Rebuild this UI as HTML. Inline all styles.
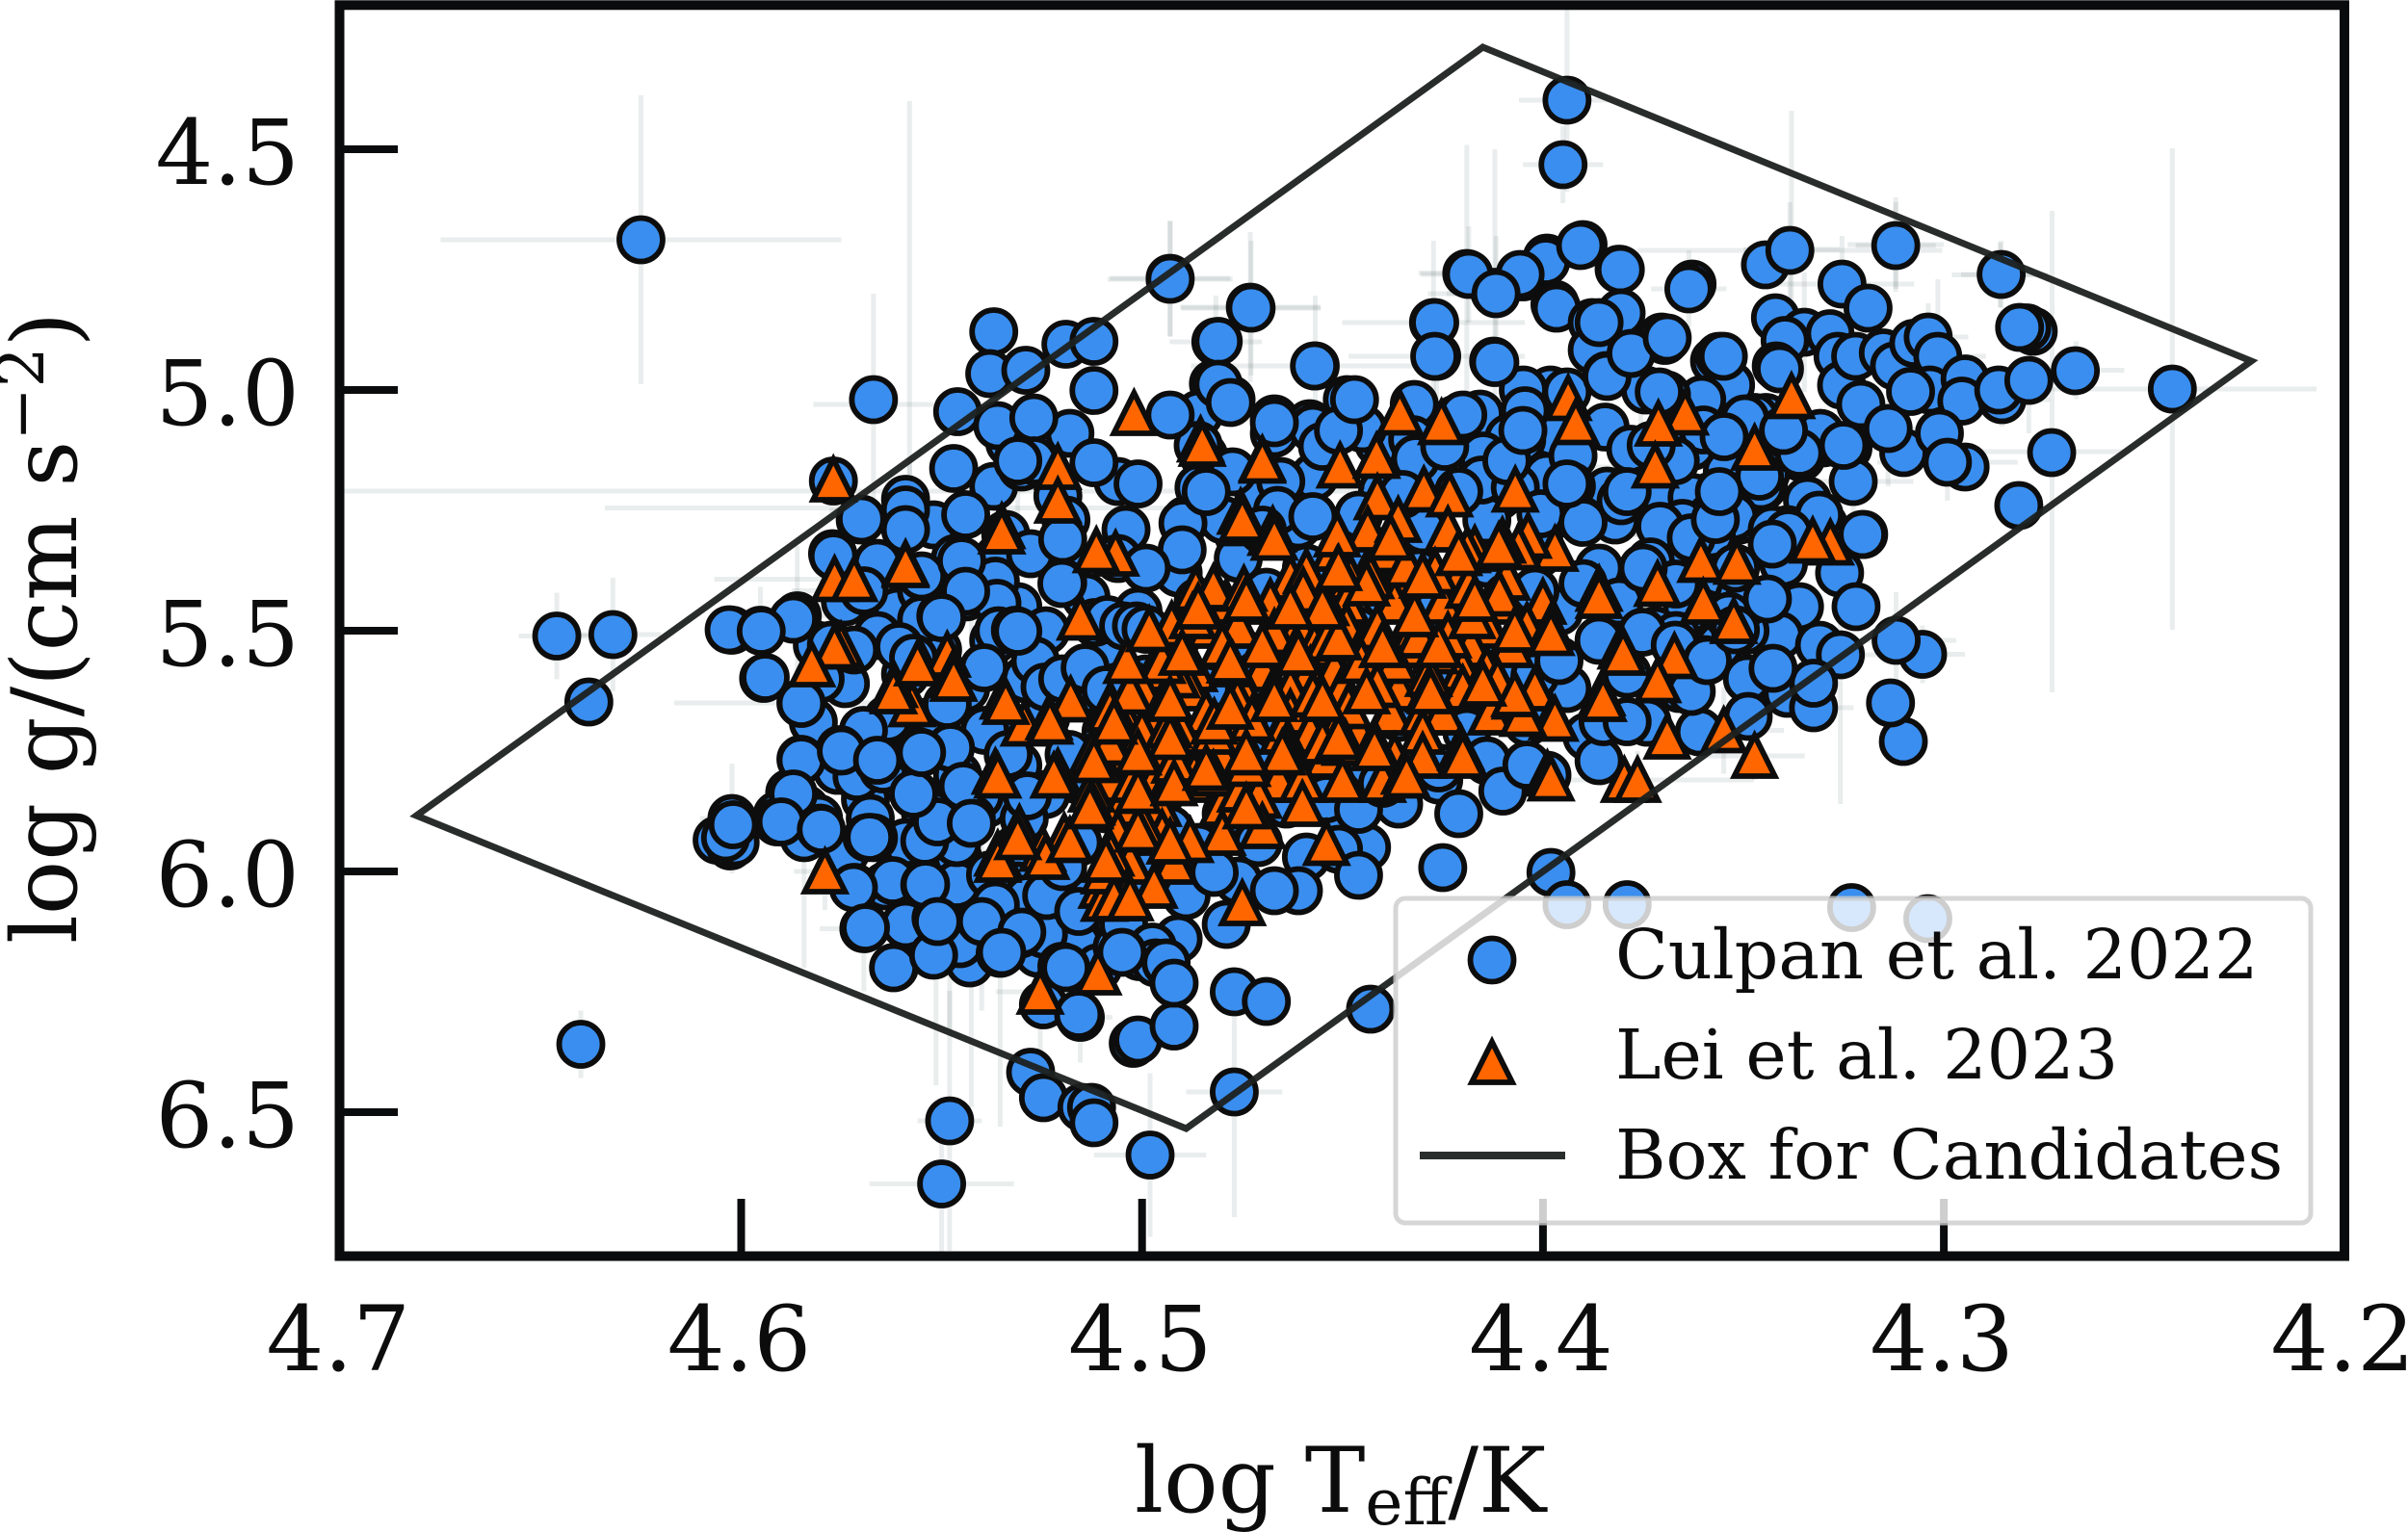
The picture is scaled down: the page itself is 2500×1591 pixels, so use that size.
<!DOCTYPE html>
<html lang="en">
<head>
<meta charset="utf-8">
<title>log g versus log Teff</title>
<style>
html,body{margin:0;padding:0;background:#fff}
svg{display:block}
text{font-family:"DejaVu Serif","Liberation Serif",serif;fill:#0c0c0c}
</style>
</head>
<body>
<svg id="chart" xmlns="http://www.w3.org/2000/svg" width="2500" height="1591" viewBox="0 0 2500 1591">
<defs><clipPath id="axes-clip"><rect x="352" y="5" width="2082" height="1300"/></clipPath></defs>
<rect x="0" y="0" width="2500" height="1591" fill="#fff"/>
<g id="ticks"></g>
<g id="errors" clip-path="url(#axes-clip)"></g>
<g id="blue"></g>
<g id="orange"></g>
<polygon id="box" fill="none" stroke="#1c211f" stroke-opacity="0.95" stroke-width="7" stroke-linejoin="miter"/>
<g>
<rect x="1449" y="933" width="950" height="337" rx="10" fill="#fff" fill-opacity="0.8" stroke="#ccc" stroke-opacity="0.8" stroke-width="5"/>
<circle cx="1549" cy="997" r="22.5" fill="#3a8eef" stroke="#0d0d0d" stroke-width="5.8"/>
<polygon points="1549,1082 1570,1124 1528,1124" fill="#ff6600" stroke="#0d0d0d" stroke-width="5.8"/>
<line x1="1474" y1="1200" x2="1625" y2="1200" stroke="#2a2f2d" stroke-width="8"/>
<text x="1677" y="1016" font-size="71.5">Culpan et al. 2022</text>
<text x="1677" y="1120" font-size="71.5">Lei et al. 2023</text>
<text x="1677" y="1224" font-size="71.5">Box for Candidates</text>
</g>
<rect x="352.5" y="5.3" width="2081.5" height="1299.2" fill="none" stroke="#0a0b0c" stroke-width="10"/>
<text x="1178" y="1570" font-size="94">log T<tspan font-size="66" dy="13">eff</tspan><tspan dy="-13">/K</tspan></text>
<text transform="translate(79,980) rotate(-90)" font-size="93.5">log g/(cm s<tspan font-size="66" dy="-34">−2</tspan><tspan dy="34">)</tspan></text>
<g id="ticklabels"></g>
</svg>
<script>
const xTicks = [4.7, 4.6, 4.5, 4.4, 4.3, 4.2];
const xTickLabels = ["4.7", "4.6", "4.5", "4.4", "4.3", "4.2"];
const yTicks = [4.5, 5.0, 5.5, 6.0, 6.5];
const yTickLabels = ["4.5", "5.0", "5.5", "6.0", "6.5"];
const boxTeff = [4.681, 4.415, 4.2233, 4.489];
const boxLogg = [5.884, 4.288, 4.94, 6.534];
const errorBars = [
[4.625,4.688,.050,.30],[4.558,5.25,.02,.85],[4.567,5.03,.015,.23],[4.493,4.768,.015,.12],[4.473,4.828,.0175,.156],
[4.531,5.21,.168,.1],[4.558,5.245,.076,.1],[4.394,4.398,.012,.19],[4.395,4.532,.01,.08],[4.419,4.757,.012,.266],
[4.412,4.80,.012,.3],[4.338,4.708,.012,.288],[4.312,4.698,.012,.098],[4.243,4.998,.036,.5],[4.273,5.128,.0194,.5],
[4.286,4.761,.012,.067],[4.267,4.959,.012,.06],[4.3258,5.55,.015,.31],[4.3119,5.52,.015,.1],[4.3053,5.549,.0106,.06],
[4.3472,5.76,.0125,.05],[4.3325,5.66,.01,.05],[4.3549,5.707,.015,.09],[4.3764,5.81,.029,.06],[4.3496,5.50,.021,.07],
[4.55,6.649,.018,.14],[4.498,6.589,.014,.17],[4.477,6.458,.012,.26],[4.64,6.359,.006,.07],[4.548,6.518,.008,.27],
[4.646,5.511,.0095,.09],[4.632,5.508,.012,.118],[4.5514,6.169,.008,.275],[4.548,6.1,.008,.23],[4.5426,5.90,.01,.59],
[4.54,6.099,.008,.19],[4.5354,6.17,.01,.36],[4.5843,5.93,.01,.27],[4.5694,6.119,.011,.13],[4.5254,6.25,.011,.126],
[4.5154,6.303,.008,.094],[4.5791,6.0,.0077,.08],[4.5851,5.65,.0316,.06],[4.5767,5.393,.03,.07],[4.5952,5.499,.01,.09],
[4.5851,5.65,.006,.07],[4.6023,5.89,.008,.114],[4.586,5.469,.012,.145],[4.4728,4.83,.0174,.14],[4.4816,4.90,.0115,.096],
[4.493,4.77,.0156,.12],[4.4568,4.95,.031,.146],[4.4273,4.86,.0228,.17],[4.4265,4.93,.022,.12],[4.4185,4.76,.012,.1],
[4.4117,4.80,.017,.12],[4.3636,4.79,.0094,.08],[4.3384,4.71,.038,.1],[4.312,4.70,.01,.09],[4.3254,4.78,.018,.1],
[4.3348,4.88,.012,.124],[4.3015,4.93,.012,.16],[4.3039,4.89,.01,.07],[4.2857,4.76,.01,.07],[4.2788,4.98,.012,.11],
[4.2855,5.02,.012,.056],[4.2991,5.15,.0175,.08],[4.3226,5.19,.015,.1],[4.3139,5.08,.012,.12],[4.3612,5.30,.02,.1],
[4.3844,5.3,.024,.1],[4.3756,5.16,.026,.14],[4.4085,5.10,.018,.2],[4.5486,5.653,.012,.12],[4.5694,5.417,.018,.1]
];
const culpanPoints = [
[4.533,5.11],[4.518,5.09],[4.441,5.11],[4.427,5.09],[4.414,5.12],[4.398,5.09],[4.36,5.1],[4.347,5.13],[4.33,5.11],[4.31,5.13],
[4.537,5.2],[4.521,5.22],[4.506,5.19],[4.471,5.21],[4.457,5.18],[4.44,5.21],[4.424,5.19],[4.411,5.22],[4.399,5.18],[4.384,5.21],[4.371,5.19],[4.358,5.22],[4.345,5.2],[4.334,5.23],
[4.552,5.28],[4.534,5.3],[4.519,5.27],[4.504,5.29],[4.489,5.27],[4.476,5.3],[4.461,5.28],[4.446,5.26],[4.43,5.29],[4.414,5.27],[4.401,5.3],[4.382,5.27],[4.369,5.3],[4.351,5.27],[4.339,5.29],[4.33,5.28],
[4.566,5.36],[4.549,5.38],[4.536,5.35],[4.519,5.37],[4.506,5.35],[4.491,5.38],[4.476,5.35],[4.459,5.37],[4.446,5.35],[4.431,5.38],[4.414,5.36],[4.401,5.34],[4.386,5.37],[4.369,5.35],[4.356,5.38],[4.34,5.36],[4.326,5.38],
[4.574,5.44],[4.561,5.46],[4.544,5.43],[4.531,5.45],[4.514,5.43],[4.501,5.46],[4.486,5.44],[4.469,5.42],[4.456,5.46],[4.439,5.43],[4.426,5.45],[4.409,5.43],[4.396,5.46],[4.381,5.44],[4.364,5.46],[4.351,5.43],[4.336,5.45],
[4.581,5.53],[4.566,5.51],[4.551,5.54],[4.537,5.52],[4.524,5.5],[4.509,5.53],[4.491,5.51],[4.476,5.54],[4.463,5.52],[4.446,5.5],[4.431,5.53],[4.416,5.51],[4.404,5.54],[4.386,5.52],[4.372,5.5],[4.356,5.53],[4.341,5.51],[4.331,5.53],
[4.574,5.61],[4.559,5.59],[4.544,5.62],[4.529,5.6],[4.516,5.63],[4.499,5.6],[4.484,5.62],[4.471,5.59],[4.454,5.61],[4.441,5.59],[4.424,5.62],[4.411,5.6],[4.394,5.62],[4.379,5.59],[4.366,5.62],[4.349,5.6],[4.339,5.63],
[4.582,5.69],[4.569,5.72],[4.554,5.69],[4.537,5.71],[4.524,5.68],[4.509,5.71],[4.494,5.69],[4.479,5.72],[4.464,5.69],[4.449,5.71],[4.436,5.68],[4.419,5.71],[4.404,5.69],[4.389,5.72],[4.374,5.69],[4.361,5.71],
[4.576,5.79],[4.561,5.77],[4.546,5.8],[4.531,5.78],[4.516,5.81],[4.503,5.78],[4.486,5.8],[4.473,5.77],[4.456,5.8],[4.443,5.78],[4.426,5.81],[4.414,5.77],[4.399,5.8],[4.386,5.77],
[4.584,5.87],[4.569,5.85],[4.554,5.88],[4.539,5.86],[4.524,5.84],[4.509,5.87],[4.496,5.85],[4.479,5.88],[4.464,5.86],[4.449,5.89],[4.436,5.86],[4.421,5.88],
[4.574,5.96],[4.559,5.94],[4.546,5.97],[4.531,5.95],[4.516,5.94],[4.501,5.97],[4.486,5.95],[4.471,5.94],[4.459,5.97],[4.444,5.95],
[4.564,6.03],[4.549,6.05],[4.531,6.03],[4.519,6.06],[4.504,6.03],[4.489,6.05],[4.476,6.02],[4.461,6.04],
[4.559,6.11],[4.546,6.14],[4.531,6.12],[4.516,6.15],[4.506,6.11],[4.491,6.14],[4.479,6.11],
[4.543,6.19],[4.526,6.17],[4.511,6.2],[4.498,6.18],
[4.625,4.688],[4.394,4.398],[4.395,4.532],[4.493,4.768],[4.473,4.828],[4.39,4.698],[4.399,4.726],[4.405,4.765],[4.419,4.758],[4.412,4.797],
[4.397,4.822],[4.381,4.749],[4.3628,4.78],[4.3636,4.79],[4.3445,4.74],[4.3384,4.71],[4.312,4.70],[4.2857,4.76],[4.3254,4.78],[4.3189,4.83],
[4.2777,4.878],[4.2793,4.871],[4.2811,4.87],[4.2672,4.96],[4.243,4.998],[4.2731,5.13],[4.2813,5.24],[4.342,4.85],[4.3348,4.88],[4.3396,4.897],
[4.3284,4.883],[4.3418,4.95],[4.3696,4.897],[4.3704,4.89],[4.3572,4.94],[4.356,4.93],[4.3532,4.99],[4.3604,5.02],[4.3692,5.01],[4.3744,5.0],
[4.3264,4.93],[4.3255,4.99],[4.322,4.93],[4.3151,4.923],[4.3123,4.95],[4.3075,4.903],[4.3039,4.89],[4.3015,4.93],[4.3035,5.0],[4.3083,5.003],
[4.2947,4.977],[4.2955,5.023],[4.2855,5.02],[4.2863,5.0],[4.2788,4.98],[4.3207,5.03],[4.3139,5.08],[4.3011,5.09],[4.2947,5.16],[4.2991,5.15],
[4.3239,5.12],[4.3308,5.09],[4.3356,5.14],[4.3226,5.19],[4.3311,5.26],[4.32,5.30],[4.3412,5.077],[4.3444,5.057],[4.3472,5.057],[4.3496,5.06],
[4.3444,5.173],[4.3456,5.20],[4.3508,5.157],[4.354,5.17],[4.3628,5.117],[4.36,5.083],[4.3548,5.097],[4.3716,5.203],[4.3628,5.223],[4.358,5.263],
[4.3524,5.263],[4.3652,5.277],[4.3708,5.283],[4.3428,5.29],[4.3388,5.297],
[4.493,4.77],[4.4728,4.83],[4.4816,4.90],[4.4778,5.02],[4.4822,4.987],[4.4858,5.05],[4.4568,4.95],[4.4488,5.02],[4.467,5.06],[4.467,5.09],
[4.4582,5.07],[4.4574,5.08],[4.445,5.08],[4.455,5.117],[4.4185,4.76],[4.3993,4.733],[4.4057,4.76],[4.4117,4.80],[4.3906,4.70],[4.3807,4.75],
[4.3966,4.83],[4.3877,4.86],[4.3805,4.84],[4.4265,4.93],[4.4273,4.86],[4.4123,4.94],[4.3877,4.917],[4.3841,4.97],[4.3981,5.0],[4.4049,5.0],
[4.4045,5.043],[4.4321,5.03],[4.4157,5.05],[4.4217,5.06],[4.4053,5.103],[4.4085,5.10],[4.3845,5.077],[4.3925,5.137],[4.3781,5.123],[4.3805,5.23],
[4.3929,5.20],[4.4149,5.137],[4.4153,5.187],[4.4069,5.203],[4.3905,5.27],[4.4325,5.103],[4.4317,5.143],[4.4245,5.117],[4.4846,5.137],[4.4858,5.203],
[4.4774,5.17],[4.4654,5.19],[4.4662,5.25],[4.4574,5.263],[4.4798,5.27],[4.4898,5.277],[4.435,5.217],[4.4005,5.257],
[4.5772,5.34],[4.5703,5.27],[4.6023,5.499],[4.5952,5.499],[4.586,5.469],[4.5851,5.65],[4.5803,5.60],[4.5944,5.599],[4.5775,5.53],[4.5718,5.54],
[4.5694,5.417],[4.5466,5.35],[4.5366,5.397],[4.5362,5.443],[4.5442,5.417],[4.5278,5.34],[4.5198,5.31],[4.5198,5.40],[4.555,5.417],[4.555,5.477],
[4.5502,5.469],[4.5606,5.533],[4.557,5.557],[4.5358,5.50],[4.5316,5.499],[4.5394,5.577],[4.5266,5.563],[4.5242,5.617],[4.5198,5.60],[4.5486,5.653],
[4.5634,5.683],[4.5695,5.707],[4.5392,5.707],[4.5851,5.767],[4.5753,5.747],[4.5711,5.803],[4.5646,5.787],[4.5562,5.75],[4.5478,5.743],[4.5879,5.837],
[4.5566,5.84],[4.5406,5.843],[4.5334,5.757],[4.6023,5.89],[4.591,5.883],[4.5807,5.89],[4.5678,5.89],[4.5518,5.883],[4.5426,5.89],[4.5294,5.89],
[4.5118,5.483],[4.5086,5.477],[4.5046,5.49],[4.5014,5.49],[4.499,5.497],[4.5142,5.577],[4.509,5.623],[4.5182,5.757],[4.5086,5.757],[4.5446,5.823],[4.5286,5.843],
[4.606,5.935],[4.6027,5.947],[4.6015,5.94],[4.6039,5.93],[4.591,5.897],[4.5843,5.93],[4.5803,5.91],[4.567,5.93],[4.5686,5.93],[4.5718,6.033],
[4.5622,6.019],[4.5542,6.028],[4.5694,6.119],[4.5618,6.199],[4.5514,6.169],[4.5454,6.15],[4.5354,6.17],[4.5514,6.097],[4.5405,6.099],[4.5246,6.13],
[4.5304,6.13],[4.5462,6.027],[4.5378,6.007],[4.5286,6.057],[4.5238,6.05],[4.52,6.197],[4.5366,6.07],[4.5006,6.177],[4.5062,6.157],[4.5046,6.11],
[4.5126,6.057],[4.5158,6.083],[4.5198,5.99],[4.5462,5.94],[4.5542,5.937],[4.551,5.897],[4.5426,5.90],[4.5246,6.277],[4.5154,6.303],[4.5158,6.297],
[4.5022,6.357],[4.501,6.35],[4.5278,6.417],[4.5246,6.47],[4.515,6.49],[4.5126,6.49],[4.4974,6.157],[4.4966,6.19],
[4.548,6.518],[4.55,6.649],[4.498,6.589],[4.512,6.522],[4.64,6.359],[4.492,6.321],[4.477,6.25],[4.469,6.27],[4.443,6.286],[4.477,6.458],
[4.494,6.19],[4.492,6.232],[4.519,6.2],[4.505,6.168],[4.425,5.992],[4.398,6.002],[4.394,6.069],[4.379,6.069],[4.323,6.075],[4.304,6.098],
[4.3101,5.73],[4.3133,5.65],[4.3325,5.66],[4.3053,5.549],[4.3119,5.52],[4.3219,5.45],[4.3258,5.55],[4.3325,5.609],[4.3426,5.578],[4.3488,5.678],
[4.3203,5.30],[4.3428,5.32],[4.3596,5.56],[4.3668,5.51],[4.3496,5.50],[4.3488,5.44],[4.3536,5.47],[4.358,5.30],[4.3732,5.357],[4.3668,5.403],[4.3752,5.503],
[4.646,5.511],[4.632,5.508],[4.638,5.648],[4.567,5.02],[4.537,4.879],[4.538,4.966],[4.529,4.959],[4.519,4.905],[4.512,4.899],[4.512,5.001],
[4.546,5.045],[4.536,5.074],[4.527,5.058],[4.53,5.16],[4.512,5.151],[4.501,5.195],[4.527,5.147],[4.547,5.163],[4.531,5.147],[4.577,5.189],
[4.559,5.227],[4.559,5.249],[4.57,5.268],[4.544,5.259],[4.577,5.345],[4.559,5.29],[4.555,5.386],[4.545,5.355],[4.544,5.418],[4.55,5.473],
[4.531,5.501],[4.52,5.402],[4.587,5.476],[4.603,5.498],[4.595,5.501],[4.594,5.597],[4.585,5.651],[4.585,5.769],[4.575,5.75],[4.566,5.769],
[4.587,5.839],[4.59,5.897],[4.602,5.903],[4.58,5.913],[4.568,5.929],[4.557,5.839],[4.555,5.753],[4.572,6.034],[4.569,6.117],[4.562,6.2],
[4.552,6.174],[4.554,6.027],[4.551,6.104],[4.54,6.104],[4.53,6.126],[4.535,6.168],[4.493,5.913],[4.467,6.04],[4.482,6.002],[4.454,5.849],
[4.446,5.871],[4.451,5.954],[4.446,6.008],[4.44,5.817],[4.426,5.785],[4.41,5.833],[4.404,5.779],[4.385,5.689],[4.379,5.689],[4.363,5.626],
[4.402,5.594],[4.396,5.562],[4.417,5.594],[4.367,5.53],[4.359,5.562],[4.352,5.498],[4.344,5.434],[4.352,5.37],[4.363,5.307],[4.375,5.37],
[4.39,5.275],[4.39,5.402],[4.402,5.418],[4.379,5.211],[4.357,5.269],[4.346,5.179],[4.336,5.131],[4.325,5.115],[4.34,5.084],[4.356,5.211],
[4.367,5.147],[4.373,5.115],[4.394,5.195],[4.409,5.147],[4.421,5.211],[4.47,5.291],[4.49,5.332],[4.499,5.37],[4.484,5.211],[4.486,5.115],
[4.493,5.052],[4.481,4.899],[4.481,4.988],[4.478,5.026],[4.457,4.95],[4.467,5.068],[4.451,5.084],[4.427,4.86],[4.427,4.93],[4.412,4.943],
[4.447,5.02],[4.405,5.084],[4.42,5.052],[4.394,5.004],[4.384,4.972],[4.386,4.86],[4.378,4.924],[4.369,4.892],[4.355,4.93],[4.341,4.956],[4.371,5.004]
];
const leiPoints = [
[4.452,5.33],[4.441,5.33],[4.417,5.33],[4.397,5.33],[4.463,5.39],[4.448,5.39],[4.437,5.39],[4.421,5.39],[4.409,5.39],
[4.479,5.44],[4.468,5.44],[4.449,5.44],[4.437,5.44],[4.425,5.44],[4.412,5.44],[4.4,5.44],
[4.483,5.49],[4.476,5.49],[4.461,5.49],[4.449,5.49],[4.432,5.49],[4.414,5.49],[4.404,5.49],
[4.494,5.53],[4.48,5.53],[4.466,5.53],[4.457,5.53],[4.445,5.53],[4.434,5.53],[4.418,5.53],[4.408,5.53],
[4.497,5.58],[4.487,5.58],[4.47,5.58],[4.458,5.58],[4.452,5.58],[4.436,5.58],[4.42,5.58],[4.414,5.58],
[4.5,5.62],[4.488,5.62],[4.475,5.62],[4.463,5.62],[4.45,5.62],[4.436,5.62],[4.42,5.62],[4.402,5.62],
[4.505,5.67],[4.496,5.67],[4.484,5.67],[4.463,5.67],[4.438,5.67],[4.43,5.67],[4.425,5.67],[4.413,5.67],
[4.5,5.71],[4.49,5.71],[4.476,5.71],[4.465,5.71],[4.458,5.71],[4.446,5.71],[4.43,5.71],
[4.506,5.76],[4.497,5.76],[4.48,5.76],[4.462,5.76],[4.454,5.76],[4.437,5.76],[4.43,5.76],
[4.508,5.81],[4.497,5.81],[4.488,5.81],[4.466,5.81],[4.46,5.81],[4.45,5.81],[4.44,5.81],
[4.505,5.86],[4.496,5.86],[4.48,5.86],[4.46,5.86],[4.506,5.92],[4.495,5.92],[4.48,5.92],[4.503,5.98],[4.492,5.98],[4.497,6.03],[4.51,6.03],
[4.338,5.013],[4.3645,5.047],[4.3712,5.07],[4.3472,5.12],[4.372,5.157],[4.4854,5.103],[4.47,5.143],[4.4506,5.157],[4.4415,5.137],[4.4357,5.047],
[4.4253,5.067],[4.3937,5.017],[4.3918,5.067],[4.4069,5.207],[4.4297,5.207],[4.4233,5.217],[4.4413,5.223],[4.475,5.277],[4.4437,5.29],[4.4237,5.29],
[4.4674,5.29],[4.4513,5.30],[4.4037,5.303],
[4.4754,5.253],[4.4678,5.297],[4.4361,5.27],[4.4061,5.327],[4.4101,5.313],[4.4189,5.333],[4.4385,5.333],[4.4341,5.363],[4.4269,5.377],[4.4513,5.373],
[4.459,5.377],[4.443,5.387],[4.4866,5.413],[4.4822,5.41],[4.4746,5.413],[4.4598,5.417],[4.4542,5.443],[4.4185,5.407],[4.4109,5.423],[4.4413,5.493],
[4.4926,5.487],[4.4874,5.47],[4.467,5.503],[4.4538,5.517],[4.431,5.51],[4.4237,5.51],[4.4177,5.47],[4.4618,5.543],[4.4269,5.543],[4.3981,5.493],
[4.386,5.413],[4.3805,5.533],[4.4369,5.563],[4.4453,5.563],[4.4774,5.57],[4.4914,5.593],[4.4413,5.613],[4.4285,5.59],[4.4285,5.623],[4.4574,5.633],
[4.4678,5.633],[4.4762,5.643],[4.4113,5.603],[4.4069,5.637],[4.3977,5.68],[4.3853,5.63],[4.4485,5.657],[4.4517,5.703],[4.4726,5.683],[4.4421,5.73],
[4.4642,5.743],[4.4493,5.733],[4.455,5.73],[4.4205,5.743],[4.4934,5.697],[4.4822,5.71],[4.487,5.797],[4.4822,5.797],[4.4345,5.793],[4.3989,5.797],
[4.3797,5.81],[4.4754,5.83],[4.471,5.843],[4.4918,5.77],[4.4738,5.777],[4.495,5.563],
[4.559,5.36],[4.5767,5.393],[4.5718,5.393],[4.5066,5.34],[4.5114,5.333],[4.535,5.283],[4.5154,5.473],[4.5751,5.53],[4.5767,5.533],[4.5824,5.57],
[4.5554,5.563],[4.5486,5.55],[4.5474,5.593],[4.5574,5.653],[4.5618,5.613],[4.5346,5.637],[4.5178,5.643],[4.5294,5.693],[4.5232,5.68],[4.5079,5.653],
[4.503,5.627],[4.5038,5.563],[4.5366,5.793],[4.521,5.793],[4.5126,5.753],[4.5082,5.733],[4.5022,5.81],[4.5126,5.83],[4.4982,5.497],
[4.5791,6.0],[4.5306,5.91],[4.5194,5.927],[4.536,5.963],[4.5248,5.953],[4.5078,5.963],[4.5094,6.057],[4.5094,6.0],[4.5038,6.043],[4.511,6.21],
[4.5254,6.25],[4.5126,5.857],[4.4998,5.903],
[4.3283,5.317],[4.3327,5.313],[4.3606,5.353],[4.3516,5.357],[4.3714,5.403],[4.36,5.44],[4.3524,5.48],[4.3672,5.553],[4.3714,5.603],[4.369,5.72],
[4.3549,5.707],[4.3472,5.76],[4.3764,5.81],
[4.577,5.186],[4.502,5.048],[4.485,5.112],[4.47,5.147],[4.521,5.16],[4.521,5.23],[4.535,5.294],[4.559,5.364],[4.475,5.268],[4.467,5.307],
[4.386,5.428],[4.38,5.546],[4.397,5.683],[4.398,5.807],[4.385,5.642],[4.454,5.941],[4.475,6.066],[4.536,5.801],[4.536,5.976],[4.524,5.97],
[4.518,5.935],[4.531,5.929],[4.562,5.626],[4.556,5.568],[4.547,5.6],[4.534,5.648],[4.523,5.689],[4.508,5.664],[4.47,5.906],[4.488,5.935],
[4.507,6.056],[4.503,6.056],[4.509,5.976],[4.501,5.913],[4.493,5.938],[4.513,5.865],[4.501,5.833],[4.492,5.817],[4.484,5.785],[4.474,5.865],
[4.465,5.753],[4.451,5.721],[4.434,5.801],[4.42,5.753],[4.442,5.744],[4.493,5.721],[4.482,5.689],[4.474,5.753],[4.501,5.753],[4.512,5.769],
[4.522,5.801],[4.507,5.689],[4.493,5.642],[4.478,5.658],[4.467,5.642],[4.455,5.642],[4.444,5.626],[4.428,5.626],[4.49,5.546],[4.47,5.53],
[4.478,5.562],[4.461,5.546],[4.451,5.514],[4.44,5.53],[4.426,5.53],[4.417,5.434],[4.432,5.466],[4.444,5.402],[4.455,5.45],[4.463,5.45],
[4.486,5.45],[4.474,5.434],[4.451,5.37],[4.438,5.307],[4.43,5.386],[4.421,5.339],[4.411,5.323],[4.407,5.498],[4.398,5.505],[4.405,5.673],
[4.407,5.632],[4.415,5.61],[4.42,5.76]
];

const SVGNS = "http://www.w3.org/2000/svg";
function xScale(t) { return 353.3 + (4.7 - t) * 4162; }
function yScale(g) { return 155 + (g - 4.5) * 500; }
function make(tag, attrs) {
  const el = document.createElementNS(SVGNS, tag);
  for (const k in attrs) el.setAttribute(k, attrs[k]);
  return el;
}
const ticksG = document.getElementById("ticks");
const labelsG = document.getElementById("ticklabels");
xTicks.forEach(function (v, i) {
  const x = xScale(v);
  if (i > 0 && i < xTicks.length - 1) {
    const t = make("line", {x1: x, x2: x, y1: 1245, y2: 1302, stroke: "#0a0b0c", "stroke-width": 8});
    
    
    ticksG.appendChild(t);
  }
  const lab = make("text", {x: x - 2, y: 1423, "font-size": 94, "text-anchor": "middle"});
  
  
  lab.textContent = xTickLabels[i];
  labelsG.appendChild(lab);
});
yTicks.forEach(function (v, i) {
  const y = yScale(v);
  const t = make("line", {x1: 355, x2: 413, y1: y, y2: y, stroke: "#0a0b0c", "stroke-width": 8});
  
  
  ticksG.appendChild(t);
  const lab = make("text", {x: 311, y: y + 36, "font-size": 94, "text-anchor": "end"});
  
  
  lab.textContent = yTickLabels[i];
  labelsG.appendChild(lab);
});
const errG = document.getElementById("errors");
errorBars.forEach(function (e) {
  const h = make("line", {x1: xScale(e[0] + e[2]), x2: xScale(e[0] - e[2]), y1: yScale(e[1]), y2: yScale(e[1]), stroke: "#2f4f4f", "stroke-opacity": 0.1, "stroke-width": 5});
  
  
  errG.appendChild(h);
  const w = make("line", {x1: xScale(e[0]), x2: xScale(e[0]), y1: yScale(e[1] - e[3]), y2: yScale(e[1] + e[3]), stroke: "#2f4f4f", "stroke-opacity": 0.1, "stroke-width": 5});
  
  
  errG.appendChild(w);
});
const blueG = document.getElementById("blue");
culpanPoints.forEach(function (p) {
  const c = make("circle", {cx: xScale(p[0]), cy: yScale(p[1]), r: 22.5, fill: "#3a8eef", stroke: "#0d0d0d", "stroke-width": 5.8});
  
  
  blueG.appendChild(c);
});
const orangeG = document.getElementById("orange");
leiPoints.forEach(function (p) {
  const x = xScale(p[0]), y = yScale(p[1]), s = 21;
  const tri = make("polygon", {points: x + "," + (y - s) + " " + (x + s) + "," + (y + s) + " " + (x - s) + "," + (y + s), fill: "#ff6600", stroke: "#0d0d0d", "stroke-width": 5.8});
  
  
  orangeG.appendChild(tri);
});
document.getElementById("box").setAttribute("points", boxTeff.map(function (t, i) {
  return xScale(t) + "," + yScale(boxLogg[i]);
}).join(" "));
</script>
</body>
</html>
